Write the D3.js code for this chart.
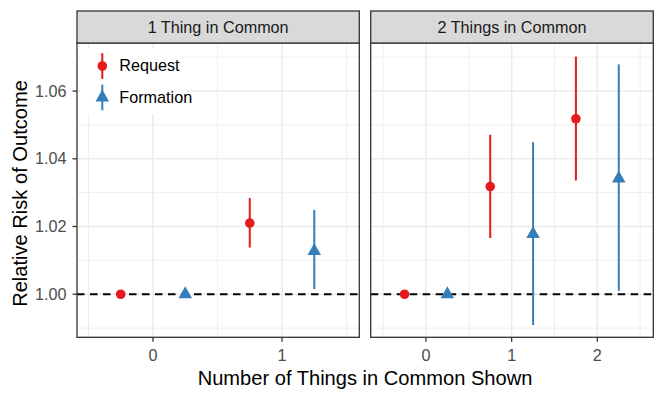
<!DOCTYPE html>
<html>
<head>
<meta charset="utf-8">
<script src="https://cdn.jsdelivr.net/npm/d3@7"></script>
<style>
  html, body { margin: 0; padding: 0; background: #fff; }
  svg { display: block; font-family: "Liberation Sans", Arial, Helvetica, sans-serif; }
</style>
</head>
<body>
<svg id="chart" width="664" height="399"></svg>
<script>
// ---- data ----
const panels = ["1 Thing in Common", "2 Things in Common"];
const seriesNames = ["Request", "Formation"];
const seriesColors = ["#E41A1C", "#377EB8"];
const dodgeOffsets = [-0.25, 0.25];

// panel 1
const p1Shown = [0, 1];
const p1RequestEst = [1.000, 1.0210];
const p1RequestLo  = [1.000, 1.0138];
const p1RequestHi  = [1.000, 1.0284];
const p1FormationEst = [1.000, 1.0128];
const p1FormationLo  = [1.000, 1.0015];
const p1FormationHi  = [1.000, 1.0249];

// panel 2
const p2Shown = [0, 1, 2];
const p2RequestEst = [1.000, 1.0318, 1.0518];
const p2RequestLo  = [1.000, 1.0166, 1.0336];
const p2RequestHi  = [1.000, 1.0471, 1.0702];
const p2FormationEst = [1.000, 1.0178, 1.0342];
const p2FormationLo  = [1.000, 0.9909, 1.0010];
const p2FormationHi  = [1.000, 1.0449, 1.0679];

const yTicks = [1.00, 1.02, 1.04, 1.06];
const yMinor = [0.99, 1.01, 1.03, 1.05, 1.07];
const p1XTicks = [0, 1];
const p1XMinor = [-0.5, 0.5, 1.5];
const p2XTicks = [0, 1, 2];
const p2XMinor = [-0.5, 0.5, 1.5, 2.5];
const refLine = 1.0;

const xTitle = "Number of Things in Common Shown";
const yTitle = "Relative Risk of Outcome";

// ---- layout ----
const svg = d3.select("#chart");
const panelTop = 43, panelBottom = 337.3, stripTop = 11;
const smallFont = 16.2, titleFont = 20.1;
const y = d3.scaleLinear().domain([0.98728, 1.0742]).range([panelBottom, panelTop]);

const panelDefs = [
  { title: panels[0], left: 77, right: 359.3, domain: [-0.589, 1.599],
    ticks: p1XTicks, minor: p1XMinor, shown: p1Shown,
    series: [
      { est: p1RequestEst, lo: p1RequestLo, hi: p1RequestHi },
      { est: p1FormationEst, lo: p1FormationLo, hi: p1FormationHi }
    ], legend: true },
  { title: panels[1], left: 370.7, right: 653.3, domain: [-0.645, 2.653],
    ticks: p2XTicks, minor: p2XMinor, shown: p2Shown,
    series: [
      { est: p2RequestEst, lo: p2RequestLo, hi: p2RequestHi },
      { est: p2FormationEst, lo: p2FormationLo, hi: p2FormationHi }
    ], legend: false }
];

const gridCol = "#EBEBEB";
const borderCol = "#333333";

function triPath(cx, cy, w, h) {
  return `M${cx},${cy - h * 2 / 3}L${cx + w / 2},${cy + h / 3}L${cx - w / 2},${cy + h / 3}Z`;
}

panelDefs.forEach((p, pi) => {
  const x = d3.scaleLinear().domain(p.domain).range([p.left, p.right]);
  const g = svg.append("g");
  const clipId = "clip" + pi;
  svg.append("clipPath").attr("id", clipId).append("rect")
    .attr("x", p.left).attr("y", panelTop).attr("width", p.right - p.left).attr("height", panelBottom - panelTop);

  const grid = g.append("g").attr("clip-path", `url(#${clipId})`);
  // minor grid
  grid.selectAll(".ymin").data(yMinor).join("line")
    .attr("x1", p.left).attr("x2", p.right).attr("y1", d => y(d)).attr("y2", d => y(d))
    .attr("stroke", gridCol).attr("stroke-width", 0.8);
  grid.selectAll(".xmin").data(p.minor).join("line")
    .attr("y1", panelTop).attr("y2", panelBottom).attr("x1", d => x(d)).attr("x2", d => x(d))
    .attr("stroke", gridCol).attr("stroke-width", 0.8);
  // major grid
  grid.selectAll(".ymaj").data(yTicks).join("line")
    .attr("x1", p.left).attr("x2", p.right).attr("y1", d => y(d)).attr("y2", d => y(d))
    .attr("stroke", gridCol).attr("stroke-width", 1.5);
  grid.selectAll(".xmaj").data(p.ticks).join("line")
    .attr("y1", panelTop).attr("y2", panelBottom).attr("x1", d => x(d)).attr("x2", d => x(d))
    .attr("stroke", gridCol).attr("stroke-width", 1.5);

  // legend (inside panel 1)
  if (p.legend) {
    const lg = g.append("g");
    lg.append("rect").attr("x", 80).attr("y", 48).attr("width", 106).attr("height", 66).attr("fill", "#fff");
    const keyY = [66, 97.5];
    seriesNames.forEach((name, si) => {
      const kx = 102.3, ky = keyY[si];
      lg.append("line").attr("x1", kx).attr("x2", kx).attr("y1", ky - 12.8).attr("y2", ky + 12.8)
        .attr("stroke", seriesColors[si]).attr("stroke-width", 2);
      if (si === 0) {
        lg.append("circle").attr("cx", kx).attr("cy", ky).attr("r", 4.8).attr("fill", seriesColors[si]);
      } else {
        lg.append("path").attr("d", triPath(kx, ky, 13.5, 12)).attr("fill", seriesColors[si]);
      }
      lg.append("text").attr("x", 119.3).attr("y", ky + 5.3).attr("font-size", smallFont)
        .attr("fill", "#000").text(name);
    });
  }

  // reference line
  g.append("line").attr("x1", p.left).attr("x2", p.right)
    .attr("y1", y(refLine)).attr("y2", y(refLine))
    .attr("stroke", "#000").attr("stroke-width", 1.8).attr("stroke-dasharray", "7.5,5.5");

  // series
  p.series.forEach((s, si) => {
    const col = seriesColors[si];
    const data = p.shown.map((v, i) => ({ xv: v + dodgeOffsets[si], est: s.est[i], lo: s.lo[i], hi: s.hi[i] }));
    const sg = g.append("g");
    sg.selectAll("line").data(data.filter(d => d.hi > d.lo)).join("line")
      .attr("x1", d => x(d.xv)).attr("x2", d => x(d.xv))
      .attr("y1", d => y(d.lo)).attr("y2", d => y(d.hi))
      .attr("stroke", col).attr("stroke-width", 2);
    if (si === 0) {
      sg.selectAll("circle").data(data).join("circle")
        .attr("cx", d => x(d.xv)).attr("cy", d => y(d.est)).attr("r", 4.8).attr("fill", col);
    } else {
      sg.selectAll("path").data(data).join("path")
        .attr("d", d => triPath(x(d.xv), y(d.est), 13.5, 12)).attr("fill", col);
    }
  });

  // panel border
  g.append("rect").attr("x", p.left).attr("y", panelTop).attr("width", p.right - p.left)
    .attr("height", panelBottom - panelTop).attr("fill", "none").attr("stroke", borderCol).attr("stroke-width", 1.3);

  // strip
  g.append("rect").attr("x", p.left).attr("y", stripTop).attr("width", p.right - p.left)
    .attr("height", panelTop - stripTop).attr("fill", "#D9D9D9").attr("stroke", borderCol).attr("stroke-width", 1.3);
  g.append("text").attr("x", (p.left + p.right) / 2).attr("y", 32.8).attr("text-anchor", "middle")
    .attr("font-size", smallFont).attr("fill", "#1A1A1A").text(p.title);

  // x axis
  const xa = g.append("g");
  xa.selectAll("line").data(p.ticks).join("line")
    .attr("x1", d => x(d)).attr("x2", d => x(d)).attr("y1", panelBottom).attr("y2", panelBottom + 4.5)
    .attr("stroke", borderCol).attr("stroke-width", 1.3);
  xa.selectAll("text").data(p.ticks).join("text")
    .attr("x", d => x(d)).attr("y", 360.5).attr("text-anchor", "middle")
    .attr("font-size", smallFont).attr("fill", "#4D4D4D").text(d => d3.format("d")(d));

  // y axis on the first panel only
  if (pi === 0) {
    const ya = g.append("g");
    ya.selectAll("line").data(yTicks).join("line")
      .attr("x1", p.left - 4.5).attr("x2", p.left).attr("y1", d => y(d)).attr("y2", d => y(d))
      .attr("stroke", borderCol).attr("stroke-width", 1.3);
    ya.selectAll("text").data(yTicks).join("text")
      .attr("x", p.left - 10.5).attr("y", d => y(d) + 5.6).attr("text-anchor", "end")
      .attr("font-size", smallFont).attr("fill", "#4D4D4D").text(d => d3.format(".2f")(d));
  }
});

// axis titles
svg.append("text").attr("x", 365).attr("y", 384.5).attr("text-anchor", "middle")
  .attr("font-size", titleFont).attr("fill", "#000").text(xTitle);
svg.append("text").attr("transform", "translate(27,193.5) rotate(-90)").attr("text-anchor", "middle")
  .attr("font-size", titleFont).attr("fill", "#000").text(yTitle);
</script>
</body>
</html>
